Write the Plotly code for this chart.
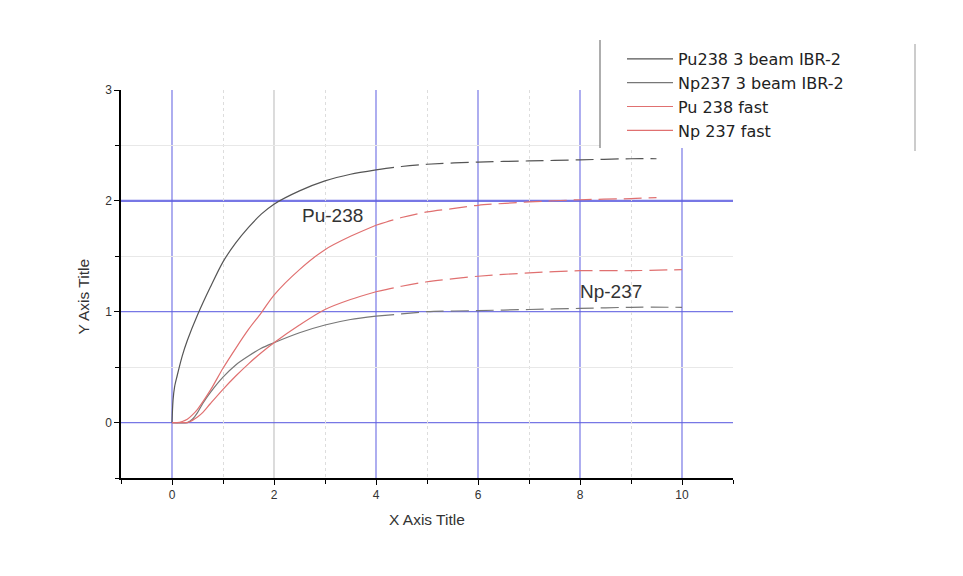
import plotly.graph_objects as go

# ---- data ----
pu_ibr_x = [0, 0.02, 0.05, 0.1, 0.2, 0.3, 0.5, 0.75, 1.0, 1.25, 1.5, 1.75, 2.0, 2.5, 3.0, 3.5, 4.0, 4.5, 5.0, 6.0, 7.0, 8.0, 9.0, 9.5]
pu_ibr_y = [0, 0.2, 0.32, 0.42, 0.6, 0.74, 0.97, 1.22, 1.45, 1.62, 1.76, 1.88, 1.97, 2.09, 2.18, 2.24, 2.28, 2.31, 2.33, 2.35, 2.36, 2.37, 2.38, 2.38]

np_ibr_x = [0, 0.3, 0.4, 0.5, 0.6, 0.75, 1.0, 1.25, 1.5, 1.75, 2.0, 2.5, 3.0, 3.5, 4.0, 4.5, 5.0, 6.0, 7.0, 8.0, 9.0, 10.0]
np_ibr_y = [0, 0, 0.03, 0.09, 0.17, 0.27, 0.41, 0.52, 0.60, 0.67, 0.72, 0.81, 0.88, 0.93, 0.96, 0.98, 1.0, 1.01, 1.02, 1.03, 1.04, 1.04]

pu_fast_x = [0, 0.1, 0.2, 0.3, 0.4, 0.5, 0.75, 1.0, 1.25, 1.5, 1.75, 2.0, 2.5, 3.0, 3.5, 4.0, 4.5, 5.0, 5.5, 6.0, 7.0, 8.0, 9.0, 9.5]
pu_fast_y = [0, 0, 0.01, 0.03, 0.07, 0.12, 0.29, 0.49, 0.67, 0.84, 0.99, 1.15, 1.38, 1.56, 1.68, 1.78, 1.85, 1.90, 1.93, 1.96, 1.99, 2.01, 2.02, 2.03]

np_fast_x = [0, 0.2, 0.3, 0.4, 0.5, 0.6, 0.75, 1.0, 1.25, 1.5, 1.75, 2.0, 2.5, 3.0, 3.5, 4.0, 4.5, 5.0, 6.0, 7.0, 8.0, 9.0, 10.0]
np_fast_y = [0, 0, 0, 0.02, 0.05, 0.09, 0.17, 0.30, 0.42, 0.53, 0.63, 0.72, 0.88, 1.02, 1.11, 1.18, 1.23, 1.27, 1.32, 1.35, 1.37, 1.37, 1.38]

series_names = ["Pu238 3 beam IBR-2", "Np237 3 beam IBR-2", "Pu 238 fast", "Np 237 fast"]
series_colors = ["#555555", "#777777", "#e07070", "#e07070"]
series_x = [pu_ibr_x, np_ibr_x, pu_fast_x, np_fast_x]
series_y = [pu_ibr_y, np_ibr_y, pu_fast_y, np_fast_y]

x_major_ticks = [0, 2, 4, 6, 8, 10]
x_minor_ticks = [-1, 1, 3, 5, 7, 9, 11]
y_major_ticks = [0, 1, 2, 3]
y_minor_ticks = [-0.5, 0.5, 1.5, 2.5]

SPLIT = 4.0

fig = go.Figure()
for name, color, xs, ys in zip(series_names, series_colors, series_x, series_y):
    head = [(a, b) for a, b in zip(xs, ys) if a <= SPLIT]
    tail = [(a, b) for a, b in zip(xs, ys) if a >= SPLIT]
    fig.add_trace(go.Scatter(
        x=[p[0] for p in head], y=[p[1] for p in head], mode="lines", name=name,
        legendgroup=name, line=dict(color=color, width=1.2, shape="spline", smoothing=0.8)))
    fig.add_trace(go.Scatter(
        x=[p[0] for p in tail], y=[p[1] for p in tail], mode="lines", name=name,
        legendgroup=name, showlegend=False,
        line=dict(color=color, width=1.2, dash="18px,7px", shape="spline", smoothing=0.8)))

BLUE = "rgba(95,95,225,0.85)"
ARIAL = "Arial, Liberation Sans, sans-serif"
axis_font = dict(family=ARIAL, size=12, color="#333333")

fig.update_xaxes(
    range=[-1, 11], tickvals=x_major_ticks, ticks="outside", ticklen=5, tickcolor="black",
    showline=True, linecolor="black", linewidth=1.5, zeroline=False,
    showgrid=False,
    minor=dict(tickmode="array", tickvals=x_minor_ticks, ticks="outside", ticklen=4, tickcolor="black",
               showgrid=True, gridcolor="#dddddd", griddash="dot", gridwidth=1),
    tickfont=axis_font, fixedrange=True)
fig.update_yaxes(
    range=[-0.5, 3], tickvals=y_major_ticks, ticks="outside", ticklen=5, tickcolor="black",
    showline=True, linecolor="black", linewidth=1.5, zeroline=False,
    showgrid=False,
    minor=dict(tickmode="array", tickvals=y_minor_ticks, ticks="outside", ticklen=4, tickcolor="black",
               showgrid=True, gridcolor="#e8e8e8", gridwidth=1),
    tickfont=axis_font, fixedrange=True)

# major grid lines (the x=2 one is grey and the y=2 one is heavier in the original)
x_grid_colors = [BLUE, "#c4c4c4", BLUE, BLUE, BLUE, BLUE]
y_grid_widths = [1.2, 1.2, 2.2, 0]
shapes = [
    dict(type="line", xref="x", yref="paper", x0=v, x1=v, y0=0, y1=1,
         line=dict(color=c, width=1.2), layer="below")
    for v, c in zip(x_major_ticks, x_grid_colors)
]
shapes += [
    dict(type="line", xref="paper", yref="y", x0=0, x1=1, y0=v, y1=v,
         line=dict(color=BLUE, width=w), layer="below")
    for v, w in zip(y_major_ticks, y_grid_widths) if w > 0
]
shapes += [
    # white legend box hiding the grid, with its two side rules
    dict(type="rect", xref="paper", yref="paper",
         x0=(600 - 121) / 612, x1=(915 - 121) / 612, y0=(478 - 148) / 388, y1=(478 - 40) / 388,
         fillcolor="white", line=dict(width=0), layer="above"),
    dict(type="line", xref="paper", yref="paper",
         x0=(600 - 121) / 612, x1=(600 - 121) / 612, y0=(478 - 148) / 388, y1=(478 - 40) / 388,
         line=dict(color="#777777", width=1.2), layer="above"),
    dict(type="line", xref="paper", yref="paper",
         x0=(915 - 121) / 612, x1=(915 - 121) / 612, y0=(478 - 151) / 388, y1=(478 - 44) / 388,
         line=dict(color="#aaaaaa", width=1.2), layer="above"),
]

label_font = dict(family=ARIAL, size=19, color="#333333")
title_font = dict(family=ARIAL, size=15.5, color="#333333")
annotations = [
    dict(text="Pu-238", x=3.14, y=1.87, xref="x", yref="y", showarrow=False, font=label_font),
    dict(text="Np-237", x=8.6, y=1.18, xref="x", yref="y", showarrow=False, font=label_font),
    dict(text="X Axis Title", x=0.5, y=(478 - 530) / 388, xref="paper", yref="paper",
         showarrow=False, font=title_font),
    dict(text="Y Axis Title", x=(72 - 121) / 612, y=(478 - 297) / 388, xref="paper", yref="paper",
         showarrow=False, textangle=-90, font=title_font),
]

fig.update_layout(
    width=963, height=576,
    margin=dict(l=121, r=230, t=90, b=98),
    paper_bgcolor="white", plot_bgcolor="white",
    shapes=shapes, annotations=annotations,
    showlegend=True,
    legend=dict(x=(622 - 121) / 612, y=(478 - 42) / 388, xanchor="left", yanchor="top",
                bgcolor="rgba(0,0,0,0)", borderwidth=0, itemwidth=46,
                font=dict(family="DejaVu Sans, sans-serif", size=16, color="#222222"),
                tracegroupgap=0),
)

fig.write_html("out.html")
